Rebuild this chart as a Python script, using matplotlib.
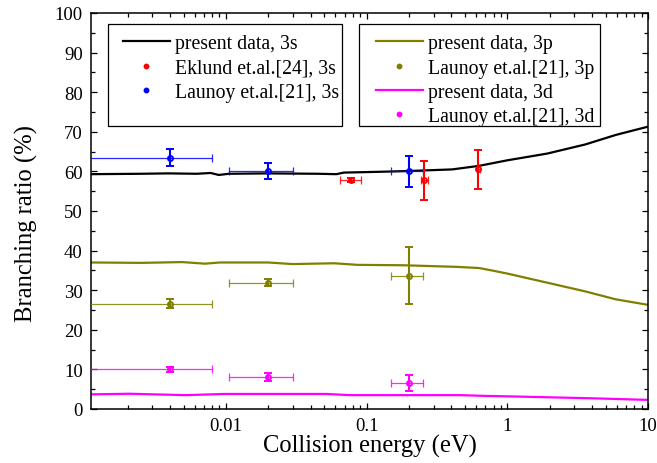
import numpy as np
import matplotlib
matplotlib.use("Agg")
import matplotlib.pyplot as plt
from matplotlib.lines import Line2D
from matplotlib.patches import Rectangle
from matplotlib.ticker import FixedLocator, LogLocator, MultipleLocator, NullFormatter

plt.rcParams["font.family"] = ["Liberation Serif", "DejaVu Serif"]
plt.rcParams["mathtext.fontset"] = "stix"

# ---- calculated branching ratios (present data) ----
energy_3s = [0.0011, 0.0025, 0.0039, 0.0062, 0.0078, 0.0089, 0.0105, 0.0199, 0.045, 0.061,
             0.069, 0.124, 0.199, 0.405, 0.63, 1.0, 1.92, 3.58, 5.89, 10.0]
ratio_3s = [59.3, 59.4, 59.5, 59.4, 59.6, 59.1, 59.4, 59.5, 59.4, 59.3,
            59.7, 59.9, 60.1, 60.5, 61.4, 62.8, 64.5, 66.8, 69.2, 71.3]

energy_3p = [0.0011, 0.0025, 0.0049, 0.0071, 0.0091, 0.0199, 0.0298, 0.059, 0.086,
             0.181, 0.432, 0.63, 0.8, 1.0, 1.92, 3.58, 5.89, 10.0]
ratio_3p = [37.0, 36.9, 37.1, 36.7, 37.0, 37.0, 36.6, 36.8, 36.4,
            36.3, 35.9, 35.6, 34.9, 34.2, 31.9, 29.7, 27.7, 26.3]

energy_3d = [0.0011, 0.00206, 0.00522, 0.00973, 0.052, 0.0757, 0.459, 0.71, 1.0, 4.05, 10.0]
ratio_3d = [3.7, 3.85, 3.5, 3.8, 3.8, 3.5, 3.5, 3.3, 3.2, 2.7, 2.3]

# ---- experimental data ----
eklund_e = [0.077, 0.256, 0.62]
eklund_e_lo = [0.065, 0.245, 0.61]
eklund_e_hi = [0.091, 0.273, 0.64]
eklund_3s = [57.8, 57.8, 60.5]
eklund_3s_err = [0.6, 4.9, 5.0]

launoy_e = [0.004, 0.02, 0.2]
launoy_e_lo = [0.0, 0.0105, 0.15]
launoy_e_hi = [0.008, 0.03, 0.25]
launoy_3s = [63.5, 60.0, 60.0]
launoy_3s_err = [2.1, 2.0, 4.0]
launoy_3p = [26.6, 31.9, 33.7]
launoy_3p_err = [1.2, 0.9, 7.1]
launoy_3d = [10.0, 8.0, 6.5]
launoy_3d_err = [0.6, 1.0, 2.0]

x_ticks = [0.01, 0.1, 1, 10]
x_tick_labels = ["0.01", "0.1", "1", "10"]

C_3S = "black"
C_EK = "#ff0000"
C_LA = "#0000ff"
C_3P = "#808000"
C_3D = "#ff00ff"

fig = plt.figure(figsize=(6.57, 4.64), dpi=100)
ax = fig.add_axes([91 / 657, 54 / 464, 557 / 657, 396 / 464])
ax.set_xscale("log")

lw_curve = 1.6
ax.plot(energy_3s, ratio_3s, color=C_3S, lw=lw_curve, zorder=2)
ax.plot(energy_3p, ratio_3p, color=C_3P, lw=lw_curve, zorder=2)
ax.plot(energy_3d, ratio_3d, color=C_3D, lw=lw_curve, zorder=2)


def draw_points(x, lo, hi, y, yerr, color):
    x = np.asarray(x, float)
    lo = np.maximum(np.asarray(lo, float), 1e-4)
    hi = np.asarray(hi, float)
    xerr = np.vstack([x - lo, hi - x])
    ax.errorbar(x, y, xerr=xerr, fmt="none", ecolor=color, elinewidth=0.9,
                capsize=2.8, capthick=0.9, alpha=0.85, zorder=3)
    ax.errorbar(x, y, yerr=yerr, fmt="o", color=color, ms=3.6, mfc="none",
                mew=1.4, elinewidth=1.5, capsize=2.8, capthick=1.5, zorder=4)


draw_points(launoy_e, launoy_e_lo, launoy_e_hi, launoy_3s, launoy_3s_err, C_LA)
draw_points(eklund_e, eklund_e_lo, eklund_e_hi, eklund_3s, eklund_3s_err, C_EK)
draw_points(launoy_e, launoy_e_lo, launoy_e_hi, launoy_3p, launoy_3p_err, C_3P)
draw_points(launoy_e, launoy_e_lo, launoy_e_hi, launoy_3d, launoy_3d_err, C_3D)

ax.set_xlim(0.0011, 10)
ax.set_ylim(0, 100)

ax.xaxis.set_major_locator(FixedLocator(x_ticks))
ax.set_xticklabels(x_tick_labels)
ax.xaxis.set_minor_locator(LogLocator(base=10, subs=np.arange(2, 10)))
ax.xaxis.set_minor_formatter(NullFormatter())
ax.yaxis.set_major_locator(MultipleLocator(10))
ax.yaxis.set_minor_locator(MultipleLocator(5))

ax.tick_params(which="both", direction="in", top=True, right=True, width=0.9)
ax.tick_params(which="major", length=4.3, labelsize=13.5, pad=6)
ax.tick_params(which="minor", length=2.7)
for s in ax.spines.values():
    s.set_linewidth(1.1)

ax.set_xlabel("Collision energy (eV)", fontsize=17.7, labelpad=0)
ax.set_ylabel("Branching ratio (%)", fontsize=17.7)
ax.yaxis.set_label_coords(-0.095, 0.47)

# ---- legends: frames drawn as rectangles, entries as frameless legends ----
for x0, x1 in [(0.0298, 0.451), (0.482, 0.914)]:
    ax.add_patch(Rectangle((x0, 0.715), x1 - x0, 0.972 - 0.715, transform=ax.transAxes,
                           facecolor="white", edgecolor="black", lw=0.9, zorder=5))

leg_kw = dict(frameon=False, loc="upper left", borderpad=0, borderaxespad=0,
              fontsize=14.2, handlelength=2.36, handletextpad=0.29, labelspacing=0.26)

h_left = [Line2D([], [], color=C_3S, lw=lw_curve),
          Line2D([], [], ls="none", marker="o", color=C_EK, ms=3.2),
          Line2D([], [], ls="none", marker="o", color=C_LA, ms=3.2)]
l_left = ["present data, 3s", "Eklund et.al.[24], 3s", "Launoy et.al.[21], 3s"]
leg1 = ax.legend(h_left, l_left, bbox_to_anchor=(0.0574, 0.946), **leg_kw)
leg1.set_zorder(6)
ax.add_artist(leg1)

h_right = [Line2D([], [], color=C_3P, lw=lw_curve),
           Line2D([], [], ls="none", marker="o", color=C_3P, ms=3.2),
           Line2D([], [], color=C_3D, lw=lw_curve),
           Line2D([], [], ls="none", marker="o", color=C_3D, ms=3.2)]
l_right = ["present data, 3p", "Launoy et.al.[21], 3p",
           "present data, 3d", "Launoy et.al.[21], 3d"]
leg2 = ax.legend(h_right, l_right, bbox_to_anchor=(0.512, 0.946), **leg_kw)
leg2.set_zorder(6)

fig.savefig("out.png", dpi=100)
